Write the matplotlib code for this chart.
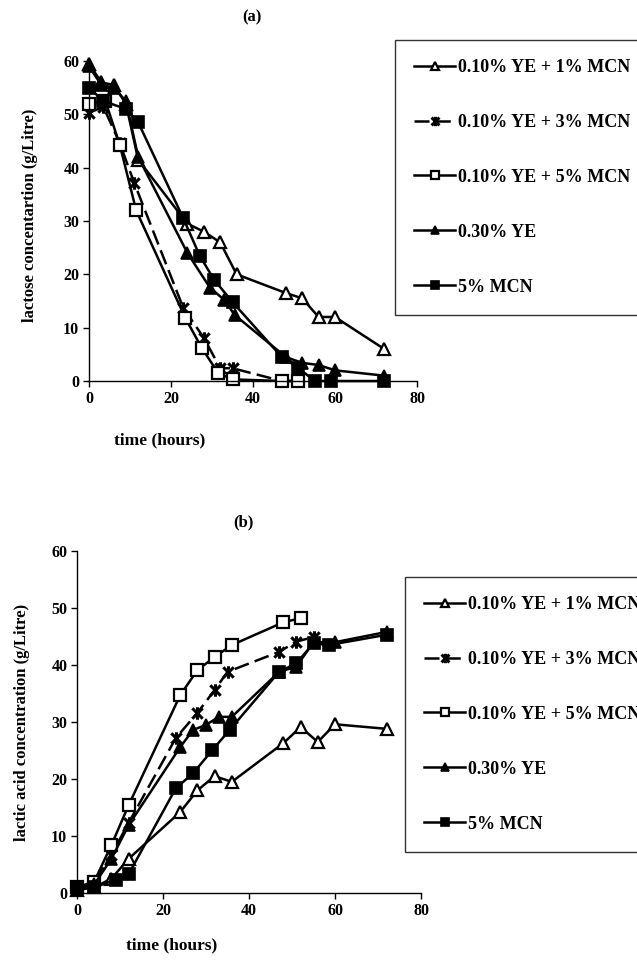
import numpy as np
import matplotlib
matplotlib.use('Agg')
import matplotlib.pyplot as plt
from matplotlib.path import Path

plt.rcParams['font.family'] = ['Liberation Serif', 'DejaVu Serif']
plt.rcParams['font.weight'] = 'bold'

labels = ['0.10% YE + 1% MCN', '0.10% YE + 3% MCN', '0.10% YE + 5% MCN',
          '0.30% YE', '5% MCN']

# (a) lactose concentration, g/L
t_a_ye1 = [0, 3, 6, 9, 12, 24, 28, 32, 36, 48, 52, 56, 60, 72]
lac_ye1 = [59.5, 56, 55.5, 52, 41.5, 29.5, 28, 26, 20, 16.5, 15.5, 12, 12, 6]
t_a_ye3 = [0, 3.5, 7.5, 11, 23, 28, 32, 35, 47, 51]
lac_ye3 = [50.3, 51.4, 44.6, 37.2, 13.7, 8.1, 2.4, 2.4, 0, 0]
t_a_ye5 = [0, 4, 7.5, 11.5, 23.5, 27.5, 31.5, 35, 47, 51]
lac_ye5 = [52, 52.5, 44.3, 32, 11.8, 6.2, 1.5, 0.3, 0, 0]
t_a_ye = [0, 3, 6, 9, 12, 24, 29.5, 33, 35.5, 48, 52, 56, 60, 72]
lac_ye = [59, 55.5, 55, 52.5, 42, 24, 17.5, 15.2, 12.4, 4.5, 3.4, 3, 2, 1]
t_a_mcn = [0, 3.5, 9, 12, 23, 27, 30.5, 35, 47, 51, 55, 59, 72]
lac_mcn = [55, 52.5, 51, 48.5, 30.5, 23.5, 19, 14.8, 4.5, 2.5, 0, 0, 0]

# (b) lactic acid concentration, g/L
t_b_ye1 = [0, 4, 8, 12, 24, 28, 32, 36, 48, 52, 56, 60, 72]
la_ye1 = [0.5, 1, 2.5, 6, 14.2, 18, 20.5, 19.5, 26.3, 29.1, 26.5, 29.6, 28.8]
t_b_ye3 = [0, 4, 8, 12, 23, 28, 32, 35, 47, 51, 55]
la_ye3 = [0.5, 2, 6.7, 12.3, 27.2, 31.6, 35.6, 38.8, 42.3, 44.1, 44.9]
t_b_ye5 = [0, 4, 8, 12, 24, 28, 32, 36, 48, 52]
la_ye5 = [1, 2, 8.4, 15.4, 34.7, 39.1, 41.4, 43.5, 47.5, 48.2]
t_b_ye = [0, 4, 8, 12, 24, 27, 30, 33, 36, 47, 51, 55, 60, 72]
la_ye = [0.5, 1.5, 6, 11.9, 25.6, 28.6, 29.5, 30.9, 30.9, 38.8, 39.7, 44, 44, 45.8]
t_b_mcn = [0, 4, 9, 12, 23, 27, 31.5, 35.5, 47, 51, 55, 58.5, 72]
la_mcn = [1, 1, 2.3, 3.3, 18.4, 21, 25.1, 28.6, 38.8, 40.3, 43.8, 43.5, 45.3]

# excel style star marker: X with a vertical bar
star = Path([(-1, -1), (1, 1), (-1, 1), (1, -1), (0, -1.2), (0, 1.2)],
            [Path.MOVETO, Path.LINETO] * 3)

styles = [
    dict(marker='^', mfc='white', mec='k', ms=8, mew=1.6, ls='-'),
    dict(marker=star, mfc='k', mec='k', ms=9, mew=2.2, ls=(0, (6, 2.5))),
    dict(marker='s', mfc='white', mec='k', ms=8, mew=1.6, ls='-'),
    dict(marker='^', mfc='k', mec='k', ms=8, mew=1.2, ls='-'),
    dict(marker='s', mfc='k', mec='k', ms=8, mew=1.2, ls='-'),
]

W, H = 637, 965
fig = plt.figure(figsize=(W / 100, H / 100), dpi=100)


def setup(ax):
    ax.set_xlim(0, 80)
    ax.set_ylim(0, 60)
    ax.set_xticks(range(0, 81, 20))
    ax.set_yticks(range(0, 61, 10))
    for s in ['top', 'right']:
        ax.spines[s].set_visible(False)
    for s in ['left', 'bottom']:
        ax.spines[s].set_linewidth(1.0)
    ax.tick_params(direction='out', length=4, width=1, labelsize=11.5, pad=3)
    for lab in ax.get_xticklabels() + ax.get_yticklabels():
        lab.set_fontweight('bold')


def draw(ax, series):
    handles = []
    for (t, y), st in zip(series, styles):
        h, = ax.plot(t, y, color='k', lw=1.8, clip_on=False, **st)
        handles.append(h)
    return handles


ax1 = fig.add_axes([89 / W, 1 - 381 / H, 328 / W, 320 / H])
h1 = draw(ax1, [(t_a_ye1, lac_ye1), (t_a_ye3, lac_ye3), (t_a_ye5, lac_ye5),
                (t_a_ye, lac_ye), (t_a_mcn, lac_mcn)])
setup(ax1)

ax2 = fig.add_axes([77 / W, 1 - 893 / H, 344 / W, 342 / H])
h2 = draw(ax2, [(t_b_ye1, la_ye1), (t_b_ye3, la_ye3), (t_b_ye5, la_ye5),
                (t_b_ye, la_ye), (t_b_mcn, la_mcn)])
setup(ax2)

leg_kw = dict(loc='upper left', frameon=True, fancybox=False, fontsize=13,
              handlelength=2.3, handletextpad=0.15, labelspacing=2.1,
              borderpad=1.05, borderaxespad=0, markerscale=0.75)
leg1 = fig.legend(h1, labels, bbox_to_anchor=(395 / W, 1 - 40 / H), **leg_kw)
leg2 = fig.legend(h2, labels, bbox_to_anchor=(405 / W, 1 - 577 / H), **leg_kw)
for leg in (leg1, leg2):
    leg.get_frame().set_edgecolor('k')
    leg.get_frame().set_linewidth(1.0)

fig.text(252 / W, 1 - 17 / H, '(a)', ha='center', va='center', fontsize=12, fontweight='bold')
fig.text(243 / W, 1 - 522 / H, '(b)', ha='center', va='center', fontsize=12, fontweight='bold')
fig.text(160 / W, 1 - 440 / H, 'time (hours)', ha='center', va='center', fontsize=12.5, fontweight='bold')
fig.text(172 / W, 1 - 945 / H, 'time (hours)', ha='center', va='center', fontsize=12.5, fontweight='bold')
fig.text(30 / W, 1 - 215 / H, 'lactose concentartion (g/Litre)', ha='center', va='center',
         rotation=90, fontsize=12, fontweight='bold')
fig.text(22 / W, 1 - 722 / H, 'lactic acid concentration (g/Litre)', ha='center', va='center',
         rotation=90, fontsize=12, fontweight='bold')

fig.savefig('out.png', dpi=100)
